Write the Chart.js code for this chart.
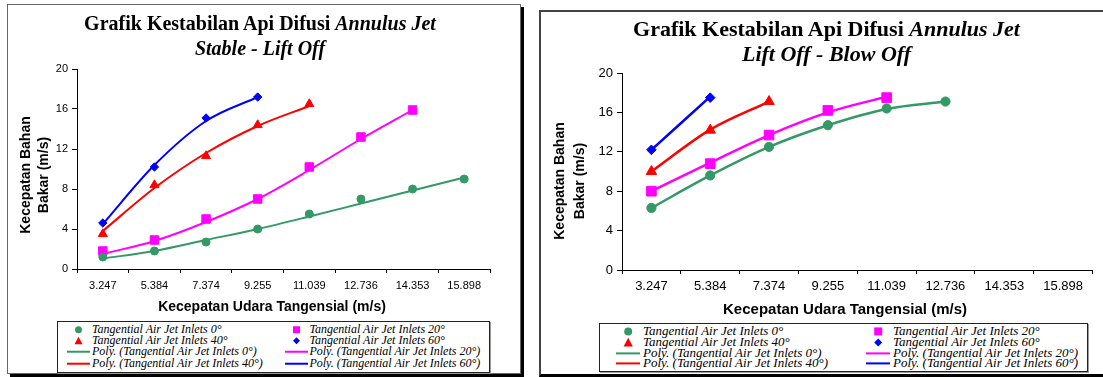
<!DOCTYPE html>
<html>
<head>
<meta charset="utf-8">
<script src="https://cdn.jsdelivr.net/npm/chart.js@4.4.0/dist/chart.umd.min.js"></script>
<style>
  body { margin: 0; width: 1103px; height: 377px; background: #fff; position: relative; overflow: hidden; }
  .abs { position: absolute; }
  .serif { font-family: "Liberation Serif", "Times New Roman", serif; }
  .sans { font-family: "Liberation Sans", Arial, sans-serif; }
  .title { font-weight: bold; text-align: center; color: #000; white-space: nowrap; }
  .axt { font-weight: bold; text-align: center; color: #000; white-space: nowrap; }
  .legend { border: 1px solid #222; box-shadow: 1px 1px 0 #999; background: #fff; }
  .leg-text { font-style: italic; color: #000; white-space: nowrap; }
</style>
</head>
<body>

<div class="abs" style="left:7px;top:4px;width:512px;height:368px;border:1px solid #666;box-shadow:3px 3px 0 #000"></div>
<div class="abs" style="left:539px;top:10px;width:600px;height:362px;border-left:2px solid #444;border-top:2px solid #444;border-bottom:3px solid #000"></div>

<canvas id="stableChart" class="abs" width="520" height="250" style="left:0;top:55px"></canvas>
<canvas id="blowChart" class="abs" width="564" height="250" style="left:539px;top:55px"></canvas>

<div class="abs serif title" style="left:0;top:11px;width:520px;font-size:20px;line-height:25px">Grafik Kestabilan Api Difusi <i>Annulus Jet</i><br><i>Stable - Lift Off</i></div>
<div class="abs serif title" style="left:539px;top:16px;width:575px;font-size:22px;line-height:25px">Grafik Kestabilan Api Difusi <i>Annulus Jet</i><br><i>Lift Off - Blow Off</i></div>

<div class="abs sans axt" style="left:152px;top:297px;width:240px;font-size:14px;line-height:18px">Kecepatan Udara Tangensial (m/s)</div>
<div class="abs sans axt" style="left:720px;top:299px;width:250px;font-size:15px;line-height:19px">Kecepatan Udara Tangensial (m/s)</div>

<div class="abs sans axt" style="left:-46px;top:157px;width:160px;height:36px;font-size:14px;line-height:18px;transform:rotate(-90deg)">Kecepatan Bahan<br>Bakar (m/s)</div>
<div class="abs sans axt" style="left:489px;top:161px;width:160px;height:40px;font-size:14px;line-height:20px;transform:rotate(-90deg)">Kecepatan Bahan<br>Bakar (m/s)</div>

<div id="legendStable" class="abs legend" style="left:57px;top:321px;width:431px;height:50px"></div>
<div id="legendBlow" class="abs legend" style="left:599px;top:323px;width:487px;height:47px"></div>

<script>
const categories = ['3.247', '5.384', '7.374', '9.255', '11.039', '12.736', '14.353', '15.898'];
const yTicks = [0, 4, 8, 12, 16, 20];

const seriesNames = ['Tangential Air Jet Inlets 0°', 'Tangential Air Jet Inlets 20°',
                     'Tangential Air Jet Inlets 40°', 'Tangential Air Jet Inlets 60°'];
const seriesColors = ['#339966', '#FF00FF', '#FF0000', '#0000FF'];
const seriesShapes = ['circle', 'rect', 'triangle', 'rectRot'];

// Stable - Lift Off (measured points)
const stable0 = [1.2, 1.8, 2.7, 4.0, 5.5, 7.0, 8.0, 9.0];
const stable20 = [1.8, 2.9, 5.0, 7.0, 10.2, 13.2, 15.9, null];
const stable40 = [3.5, 8.4, 11.3, 14.4, 16.5, null, null, null];
const stable60 = [4.6, 10.2, 15.1, 17.2, null, null, null, null];
// Stable - Lift Off (poly trendlines)
const stableTrend0 = [1.05, 1.8, 2.9, 4.0, 5.25, 6.55, 7.85, 9.15];
const stableTrend20 = [1.5, 2.8, 4.7, 7.0, 9.9, 13.0, 15.9, null];
const stableTrend40 = [3.8, 8.1, 11.6, 14.3, 16.3, null, null, null];
const stableTrend60 = [4.5, 10.4, 14.8, 17.2, null, null, null, null];

// Lift Off - Blow Off (measured points)
const blow0 = [6.3, 9.6, 12.5, 14.7, 16.4, 17.1, null, null];
const blow20 = [8.0, 10.8, 13.7, 16.2, 17.5, null, null, null];
const blow40 = [10.0, 14.2, 17.1, null, null, null, null, null];
const blow60 = [12.2, 17.5, null, null, null, null, null, null];
// Lift Off - Blow Off (poly trendlines)
const blowTrend0 = [6.3, 9.6, 12.5, 14.7, 16.35, 17.1, null, null];
const blowTrend20 = [8.0, 10.9, 13.7, 16.0, 17.6, null, null, null];
const blowTrend40 = [10.0, 14.25, 17.1, null, null, null, null, null];
const blowTrend60 = [12.2, 17.6, null, null, null, null, null, null];

Chart.defaults.font.family = '"Liberation Sans", Arial, sans-serif';
Chart.defaults.color = '#000';

function makeChart(id, points, trends, g) {
    const datasets = [];
    points.forEach((data, i) => {
        datasets.push({
            label: seriesNames[i],
            data: data,
            showLine: false,
            pointStyle: seriesShapes[i],
            pointRadius: g.radius[i],
            backgroundColor: seriesColors[i],
            borderColor: seriesColors[i],
            borderWidth: 1,
            order: 1
        });
    });
    trends.forEach((data, i) => {
        datasets.push({
            label: 'Poly. (' + seriesNames[i] + ')',
            data: data,
            borderColor: seriesColors[i],
            borderWidth: g.lineWidth,
            pointRadius: 0,
            cubicInterpolationMode: 'monotone',
            order: 2
        });
    });

    return new Chart(document.getElementById(id), {
        type: 'line',
        data: {labels: categories, datasets: datasets},
        options: {
            responsive: false,
            animation: false,
            layout: {padding: {top: g.padTop, right: g.padRight, left: 0, bottom: 0}},
            plugins: {legend: {display: false}, tooltip: {enabled: false}},
            scales: {
                x: {
                    offset: true,
                    grid: {offset: true, drawOnChartArea: false, tickLength: 4, color: '#000'},
                    border: {color: '#000', width: 1},
                    ticks: {color: '#000', font: {size: g.tickFont}, padding: g.xPad, maxRotation: 0, autoSkip: false},
                    afterFit: s => { s.height = g.xHeight; }
                },
                y: {
                    min: 0,
                    max: 20,
                    afterBuildTicks: s => { s.ticks = yTicks.map(v => ({value: v})); },
                    grid: {drawOnChartArea: false, tickLength: 5, color: '#000'},
                    border: {color: '#000', width: 1},
                    ticks: {color: '#000', font: {size: g.tickFont}, padding: 4},
                    afterFit: s => { s.width = g.yWidth; }
                }
            }
        }
    });
}

function symbolSvg(shape, color, w, h, ms, isLine, lw) {
    const cx = w / 2, cy = h / 2, r = ms / 2;
    let body = '';
    if (isLine) {
        body = '<rect x="0" y="' + (cy - lw / 2) + '" width="' + w + '" height="' + lw + '" fill="' + color + '"/>';
    } else if (shape === 'circle') {
        body = '<circle cx="' + cx + '" cy="' + cy + '" r="' + r + '" fill="' + color + '"/>';
    } else if (shape === 'rect') {
        body = '<rect x="' + (cx - r) + '" y="' + (cy - r) + '" width="' + ms + '" height="' + ms + '" fill="' + color + '"/>';
    } else if (shape === 'triangle') {
        const t = r * 1.15;
        body = '<polygon points="' + cx + ',' + (cy - t) + ' ' + (cx + t) + ',' + (cy + r) + ' ' + (cx - t) + ',' + (cy + r) + '" fill="' + color + '"/>';
    } else {
        body = '<polygon points="' + cx + ',' + (cy - r) + ' ' + (cx + r) + ',' + cy + ' ' + cx + ',' + (cy + r) + ' ' + (cx - r) + ',' + cy + '" fill="' + color + '"/>';
    }
    return '<svg width="' + w + '" height="' + h + '" style="display:block">' + body + '</svg>';
}

function buildLegend(id, g) {
    const box = document.getElementById(id);
    const items = [];
    seriesNames.forEach((n, i) => items.push({text: n, i: i, line: false}));
    seriesNames.forEach((n, i) => items.push({text: 'Poly. (' + n + ')', i: i, line: true}));
    items.forEach((it, k) => {
        const col = k % 2, row = Math.floor(k / 2);
        const top = g.top0 + row * g.rowH - g.rowH / 2;
        const sym = document.createElement('div');
        sym.className = 'abs';
        sym.style.left = g.symX[col] + 'px';
        sym.style.top = top + 'px';
        sym.innerHTML = symbolSvg(seriesShapes[it.i], seriesColors[it.i], g.symW, g.rowH, g.ms, it.line, g.lw);
        box.appendChild(sym);
        const txt = document.createElement('div');
        txt.className = 'abs serif leg-text';
        txt.style.left = g.textX[col] + 'px';
        txt.style.top = top + 'px';
        txt.style.fontSize = g.font + 'px';
        txt.style.lineHeight = g.rowH + 'px';
        txt.textContent = it.text;
        box.appendChild(txt);
    });
}

makeChart('stableChart',
    [stable0, stable20, stable40, stable60],
    [stableTrend0, stableTrend20, stableTrend40, stableTrend60],
    {radius: [4, 6, 5.2, 4.2], lineWidth: 2, padTop: 14, padRight: 30, xHeight: 36, yWidth: 77, tickFont: 11, xPad: 6});

makeChart('blowChart',
    [blow0, blow20, blow40, blow60],
    [blowTrend0, blowTrend20, blowTrend40, blowTrend60],
    {radius: [4.6, 6.8, 6, 4.8], lineWidth: 2.5, padTop: 18, padRight: 10.5, xHeight: 35, yWidth: 83, tickFont: 13, xPad: 5});

buildLegend('legendStable', {top0: 7.3, rowH: 11.45, symX: [9, 226.6], textX: [34, 251.4], symW: 23, ms: 7, lw: 2, font: 12});
buildLegend('legendBlow', {top0: 7.3, rowH: 10.8, symX: [16, 266], textX: [43, 293], symW: 24.4, ms: 8, lw: 2, font: 13});
</script>
</body>
</html>
